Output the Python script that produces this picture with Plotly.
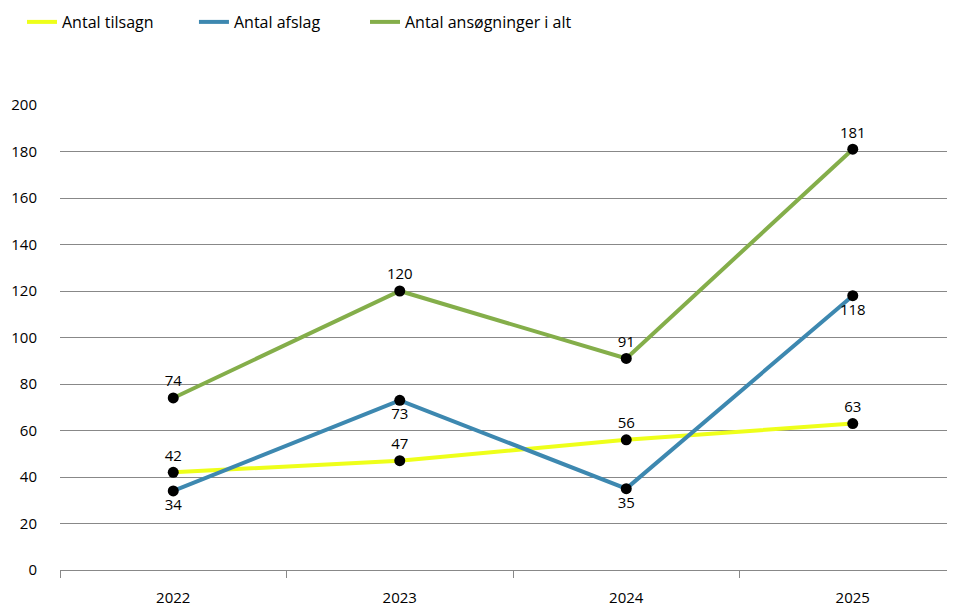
import plotly.graph_objects as go

years = ["2022", "2023", "2024", "2025"]
tilsagn = [42, 47, 56, 63]
afslag = [34, 73, 35, 118]
ansoegninger = [74, 120, 91, 181]

names = ["Antal tilsagn", "Antal afslag", "Antal ansøgninger i alt"]
colors = ["#eeff1a", "#3d88b0", "#84ae4a"]
label_pos = ["top center", "bottom center", "top center"]
legend_ids = ["legend", "legend2", "legend3"]
legend_x = [0.01454, 0.1931, 0.3707]

FONT = "Open Sans"
fig = go.Figure()
for name, vals, col, lg in zip(names, [tilsagn, afslag, ansoegninger], colors, legend_ids):
    fig.add_trace(go.Scatter(
        x=years, y=vals, name=name, mode="lines",
        line=dict(color=col, width=4), legend=lg, showlegend=True,
    ))
for vals, pos in zip([tilsagn, afslag, ansoegninger], label_pos):
    fig.add_trace(go.Scatter(
        x=years, y=vals, mode="markers+text", showlegend=False,
        marker=dict(color="black", size=11),
        text=[str(v) for v in vals], textposition=pos,
        textfont=dict(family=FONT, size=15, color="black"),
        cliponaxis=False, hoverinfo="skip",
    ))

leg_common = dict(orientation="h", xref="container", yref="paper", y=1.1785,
                  xanchor="left", yanchor="middle", bgcolor="rgba(0,0,0,0)",
                  font=dict(family=FONT, size=16, color="black"))
legends = {lg: dict(x=lx, **leg_common) for lg, lx in zip(legend_ids, legend_x)}

fig.update_layout(
    width=963, height=614,
    margin=dict(l=52, r=0, t=97, b=52, autoexpand=False),
    plot_bgcolor="white", paper_bgcolor="white",
    font=dict(family=FONT, size=15, color="black"),
    showlegend=True,
    xaxis=dict(type="category", range=[-0.5, 3.522], showgrid=False,
               showline=True, linecolor="#888888", linewidth=1,
               ticks="outside", tickson="boundaries", ticklen=7, tickcolor="#888888",
               tickfont=dict(family=FONT, size=15), ticklabelstandoff=14),
    yaxis=dict(range=[0, 200], dtick=20, showgrid=True, gridcolor="#888888", gridwidth=1,
               zeroline=False, showline=False, ticks="",
               tickfont=dict(family=FONT, size=15), ticklabelstandoff=22),
    **legends,
)
fig.write_html("out.html")
